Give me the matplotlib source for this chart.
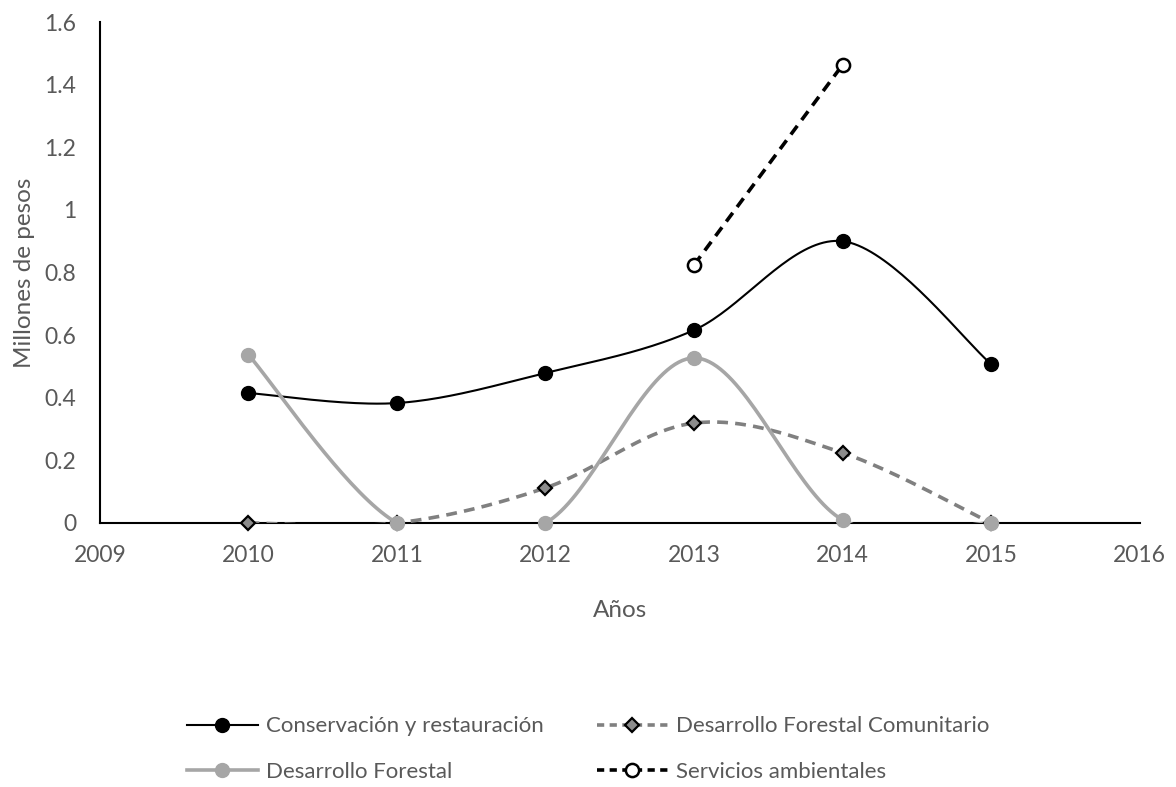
import numpy as np
import matplotlib
matplotlib.use("Agg")
from matplotlib import pyplot as plt
from matplotlib.lines import Line2D

plt.rcParams['font.family'] = ['Lato', 'DejaVu Sans']

years = [2010, 2011, 2012, 2013, 2014, 2015]
conservacion = [0.415, 0.383, 0.479, 0.616, 0.900, 0.508]
comunitario = [0.0, 0.0, 0.112, 0.319, 0.224, 0.0]
forestal = [0.537, 0.0, 0.0, 0.527, 0.010, 0.0]
serv_years = [2013, 2014]
servicios = [0.824, 1.463]

TXT = '#595959'


def smooth(x, y, n=40):
    # bezier smoothing, control points at 1/6 of the neighbour difference
    x = np.asarray(x, float)
    y = np.asarray(y, float)
    xp = np.concatenate([[x[0]], x, [x[-1]]])
    yp = np.concatenate([[y[0]], y, [y[-1]]])
    t = np.linspace(0, 1, n)
    xs, ys = [], []
    for i in range(len(x) - 1):
        p0 = np.array([xp[i + 1], yp[i + 1]])
        p3 = np.array([xp[i + 2], yp[i + 2]])
        c1 = p0 + (np.array([xp[i + 2], yp[i + 2]]) - np.array([xp[i], yp[i]])) / 6
        c2 = p3 - (np.array([xp[i + 3], yp[i + 3]]) - np.array([xp[i + 1], yp[i + 1]])) / 6
        b = ((1 - t) ** 3)[:, None] * p0 + (3 * (1 - t) ** 2 * t)[:, None] * c1 \
            + (3 * (1 - t) * t ** 2)[:, None] * c2 + (t ** 3)[:, None] * p3
        xs.extend(b[:, 0])
        ys.extend(b[:, 1])
    return np.array(xs), np.array(ys)


fig = plt.figure(figsize=(11.76, 7.87), dpi=100)
ax = fig.add_axes([0.085, 0.3355, 0.884, 0.6365])

# Conservacion y restauracion
sx, sy = smooth(years, conservacion)
ax.plot(sx, sy, color='black', lw=1.5, zorder=3)
ax.plot(years, conservacion, 'o', color='black', ms=10, zorder=4, clip_on=False)

# Desarrollo Forestal Comunitario
sx, sy = smooth(years, comunitario)
ax.plot(sx, sy, color='#808080', lw=2.6, ls=(0, (3, 2)), zorder=3)
ax.plot(years, comunitario, 'D', color='#8c8c8c', mec='black', mew=1.6, ms=7.5,
        zorder=4, clip_on=False)

# Desarrollo Forestal
sx, sy = smooth(years, forestal)
ax.plot(sx, sy, color='#a6a6a6', lw=2.6, zorder=3)
ax.plot(years, forestal, 'o', color='#a6a6a6', ms=10, zorder=4, clip_on=False)

# Servicios ambientales
ax.plot(serv_years, servicios, color='black', lw=2.6, ls=(0, (3, 2)), zorder=3)
ax.plot(serv_years, servicios, 'o', mfc='white', mec='black', mew=1.8, ms=9.5,
        zorder=4, clip_on=False)

ax.set_xlim(2009, 2016)
ax.set_ylim(0, 1.6)
ax.set_xticks(range(2009, 2017))
ax.set_yticks([0, 0.2, 0.4, 0.6, 0.8, 1.0, 1.2, 1.4, 1.6])
ax.set_yticklabels(['0', '0.2', '0.4', '0.6', '0.8', '1', '1.2', '1.4', '1.6'])
ax.tick_params(length=0, labelsize=16.5, labelcolor=TXT)
ax.tick_params(axis='y', pad=17)
ax.tick_params(axis='x', pad=16)
for s in ['top', 'right']:
    ax.spines[s].set_visible(False)
for s in ['left', 'bottom']:
    ax.spines[s].set_linewidth(1.5)
    ax.spines[s].set_color('black')

ax.set_xlabel('Años', fontsize=17.5, color=TXT, labelpad=24)
ax.set_ylabel('Millones de pesos', fontsize=17.5, color=TXT, labelpad=7)

handles = [
    Line2D([], [], color='black', lw=1.5, marker='o', ms=10),
    Line2D([], [], color='#a6a6a6', lw=2.6, marker='o', ms=10),
    Line2D([], [], color='#808080', lw=2.6, ls=(0, (2, 1.5)), marker='D',
           mfc='#8c8c8c', mec='black', mew=1.6, ms=7.5),
    Line2D([], [], color='black', lw=2.6, ls=(0, (2, 1.5)), marker='o',
           mfc='white', mec='black', mew=1.8, ms=9.5),
]
labels = ['Conservación y restauración', 'Desarrollo Forestal',
          'Desarrollo Forestal Comunitario', 'Servicios ambientales']
leg = fig.legend(handles, labels, ncol=2, loc='center', bbox_to_anchor=(0.5, 0.048),
                 frameon=False, fontsize=16, handlelength=3.2, columnspacing=2.4,
                 labelspacing=1.15, handletextpad=0.35)
for t in leg.get_texts():
    t.set_color(TXT)

fig.savefig('out.png', dpi=100)
